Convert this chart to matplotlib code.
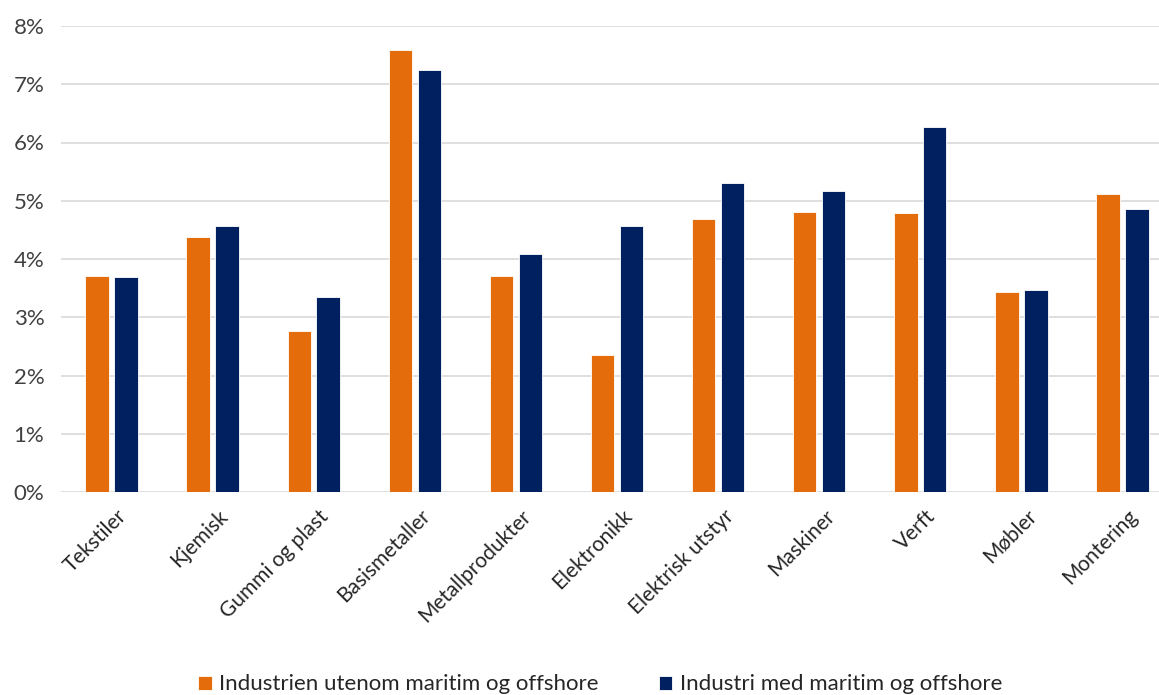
import matplotlib.pyplot as plt
import numpy as np
from matplotlib.ticker import PercentFormatter

plt.rcParams['font.family'] = ['Lato', 'DejaVu Sans']

categories = ["Tekstiler", "Kjemisk", "Gummi og plast", "Basismetaller", "Metallprodukter",
              "Elektronikk", "Elektrisk utstyr", "Maskiner", "Verft", "Møbler", "Montering"]
uten_offshore = [3.71, 4.37, 2.77, 7.59, 3.71, 2.35, 4.68, 4.81, 4.79, 3.43, 5.12]  # orange
med_offshore = [3.69, 4.57, 3.34, 7.24, 4.08, 4.57, 5.31, 5.17, 6.26, 3.47, 4.86]   # navy
series_names = ["Industrien utenom maritim og offshore", "Industri med maritim og offshore"]

orange = "#E46C0A"
navy = "#002060"

fig = plt.figure(figsize=(11.59, 6.95), dpi=100)
# plot area runs slightly past the right edge, as in the reference
ax = fig.add_axes([61 / 1159, 1 - 492 / 695, 1112 / 1159, 466 / 695])

x = np.arange(len(categories))
w = 0.232
off = 0.143
ax.bar(x - off, uten_offshore, w, color=orange, edgecolor="white", linewidth=0.6,
       label=series_names[0], zorder=3)
ax.bar(x + off, med_offshore, w, color=navy, edgecolor="white", linewidth=0.6,
       label=series_names[1], zorder=3)

ax.set_xlim(-0.5, len(categories) - 0.5)
ax.set_ylim(0, 8)
ax.set_yticks(range(0, 9))
ax.yaxis.set_major_formatter(PercentFormatter(decimals=0))
ax.grid(axis="y", color="#D9D9D9", linewidth=1.2, zorder=0)
for s in ax.spines.values():
    s.set_visible(False)
ax.tick_params(axis="both", length=0)
ax.tick_params(axis="y", labelsize=16, labelcolor="#404040", pad=12)

ax.set_xticks(x + 0.05)
ax.set_xticklabels(categories, rotation=45, ha="right", rotation_mode="anchor",
                   fontsize=15, color="#262626")
ax.tick_params(axis="x", pad=10)

fig.legend(loc="lower center", bbox_to_anchor=(0.518, -0.028), ncol=2, frameon=False,
           fontsize=16, handlelength=0.6, handleheight=0.6, handletextpad=0.35,
           columnspacing=2.7, labelcolor="#262626")

fig.savefig("out.png", dpi=100)
